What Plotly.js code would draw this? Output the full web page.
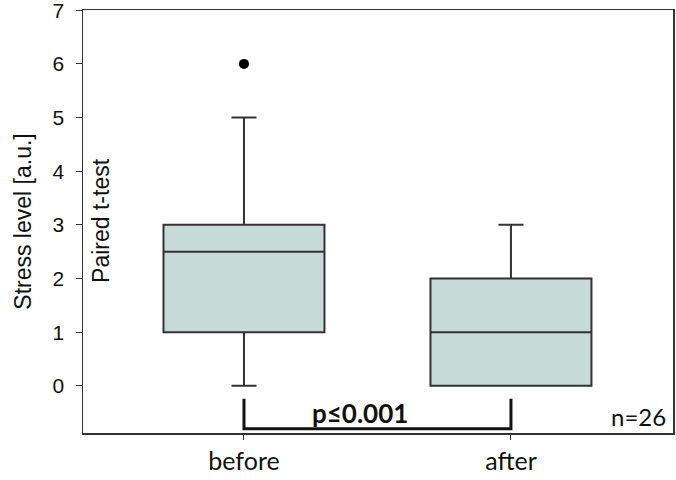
<!DOCTYPE html>
<html>
<head>
<meta charset="utf-8">
<script src="https://cdn.plot.ly/plotly-3.0.1.min.js"></script>
<style>html,body{margin:0;padding:0;background:#fff;}</style>
</head>
<body>
<div id="chart" style="width:676px;height:480px;"></div>
<script>
// Data
const categories = ["before", "after"];
const catPos = [1, 2];
const q1 = [1, 0];
const medians = [2.5, 1];
const q3 = [3, 2];
const lowerFence = [0, 0];
const upperFence = [5, 3];
const outlierValues = [6];
const outlierCategory = ["before"];
const yTicks = [0, 1, 2, 3, 4, 5, 6, 7];
const pText = "p≤0.001";
const nText = "n=26";
const testText = "Paired t-test";
const yTitle = "Stress level [a.u.]";

const lineCol = "#333333";
const fillCol = "#c7dad7";

const traces = [{
  type: "box",
  x: catPos,
  q1: q1, median: medians, q3: q3,
  lowerfence: lowerFence, upperfence: upperFence,
  boxpoints: false,
  width: 0.603,
  whiskerwidth: 0.155,
  fillcolor: fillCol,
  line: {color: lineCol, width: 2},
  hoverinfo: "skip",
  showlegend: false
}, {
  type: "scatter",
  mode: "markers",
  x: outlierCategory.map(c => catPos[categories.indexOf(c)]),
  y: outlierValues,
  marker: {color: "#000", size: 10},
  hoverinfo: "skip",
  showlegend: false
}];

const bracketTop = -0.24, bracketBottom = -0.8;

const layout = {
  width: 676, height: 480,
  margin: {l: 83, r: 3, t: 10, b: 47},
  paper_bgcolor: "#fff", plot_bgcolor: "#fff",
  showlegend: false,
  xaxis: {
    range: [0.397, 2.607],
    tickmode: "array", tickvals: catPos, ticktext: categories,
    ticks: "outside", ticklen: 5, tickcolor: lineCol, tickwidth: 1,
    showgrid: false, zeroline: false,
    showline: true, linecolor: lineCol, linewidth: 1.5, mirror: true,
    tickfont: {family: "Lato, 'Open Sans', sans-serif", size: 25, color: "#111"}
  },
  yaxis: {
    range: [-0.88, 7.005],
    tickmode: "array", tickvals: yTicks,
    ticks: "outside", ticklen: 6, tickcolor: lineCol, tickwidth: 1,
    ticklabelstandoff: 7,
    ticklabeloverflow: "allow",
    showgrid: false, zeroline: false,
    showline: true, linecolor: lineCol, linewidth: 1.5, mirror: true,
    tickfont: {family: "'Liberation Sans', Arial, sans-serif", size: 21, color: "#111"},
    title: {text: yTitle, standoff: 14, font: {family: "'Liberation Sans', Arial, sans-serif", size: 23, color: "#111"}}
  },
  shapes: [{
    type: "path", xref: "x", yref: "y",
    path: "M " + catPos[0] + "," + bracketTop + " L " + catPos[0] + "," + bracketBottom +
          " L " + catPos[1] + "," + bracketBottom + " L " + catPos[1] + "," + bracketTop,
    line: {color: "#111", width: 3}
  }],
  annotations: [{
    text: "<b>" + pText + "</b>", x: 1.435, y: -0.5, xref: "x", yref: "y",
    showarrow: false, font: {family: "Lato, 'Open Sans', sans-serif", size: 26, color: "#111"}
  }, {
    text: nText, x: 2.476, y: -0.57, xref: "x", yref: "y",
    showarrow: false, font: {family: "Lato, 'Open Sans', sans-serif", size: 24, color: "#111"}
  }, {
    text: testText, x: 0.462, y: 3.08, xref: "x", yref: "y",
    textangle: -90, showarrow: false,
    font: {family: "'Liberation Sans', Arial, sans-serif", size: 23, color: "#111"}
  }]
};

Plotly.newPlot("chart", traces, layout, {displayModeBar: false, staticPlot: true});
</script>
</body>
</html>
